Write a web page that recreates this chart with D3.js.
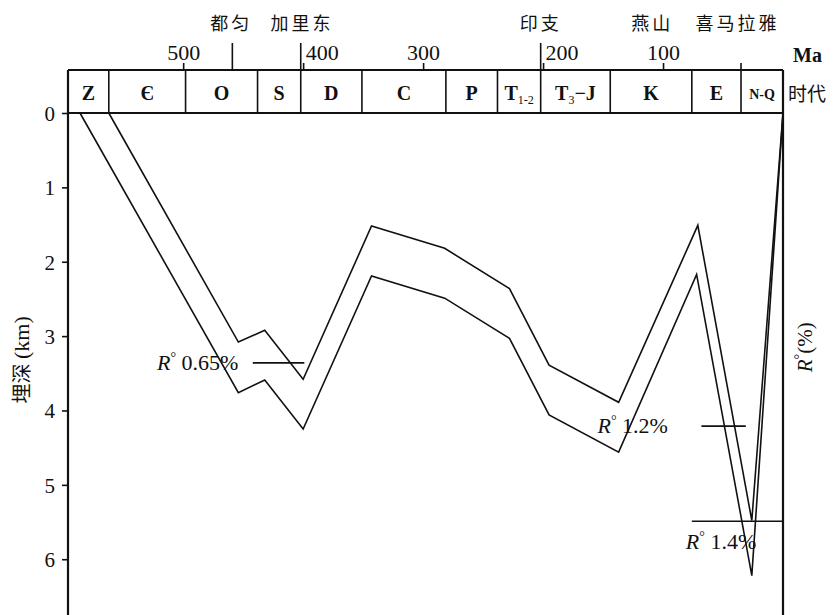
<!DOCTYPE html>
<html>
<head>
<meta charset="utf-8">
<script src="https://cdn.jsdelivr.net/npm/d3@7"></script>
<style>
  body { margin: 0; background: #fff; }
  text { fill: #111; }
</style>
</head>
<body>
<svg id="chart" width="834" height="615"></svg>
<script>
// Geological periods and their boundaries (Ma)
const periodNames  = ["Z", "Є", "O", "S", "D", "C", "P", "T1-2", "T3-J", "K", "E", "N-Q"];
const periodBounds = [596, 562, 498, 438, 402, 351, 281, 238, 202, 144, 76, 35, 0];

// Age ticks (Ma) and depth ticks (km)
const ageTicks   = [500, 400, 300, 200, 100];
const depthTicks = [0, 1, 2, 3, 4, 5, 6];

// Tectonic movements
const orogenyNames = ["都匀", "加里东", "印支", "燕山", "喜马拉雅"];
const orogenyAges  = [460, 401, 202, 109, 38];
const orogenyLineAges  = [459, 402, 202];
const orogenyShortAges = [35];

// Burial curve: top of the unit
const topAges   = [562, 454, 432, 400, 343, 282, 228, 195, 137, 71, 26, 0];
const topDepths = [0, 3.08, 2.92, 3.58, 1.52, 1.82, 2.36, 3.39, 3.89, 1.51, 5.48, 0];

// Burial curve: base of the unit
const baseAges   = [586, 454, 432, 400, 343, 282, 228, 195, 137, 72, 26, 0];
const baseDepths = [0, 3.76, 3.59, 4.25, 2.19, 2.49, 3.03, 4.06, 4.56, 2.17, 6.22, 0];

// Vitrinite reflectance levels
const roValues   = ["0.65", "1.2", "1.4"];
const roDepths   = [3.36, 4.21, 5.49];
const roFromAges = [442, 68, 76];
const roToAges   = [399, 31, 0];

const svg = d3.select("#chart");
const serif = "'Liberation Serif', 'DejaVu Serif', serif";
const cjk = "'Noto Sans CJK SC', sans-serif";

const x = d3.scaleLinear().domain([596, 0]).range([68, 783]);
const y = d3.scaleLinear().domain([0, 6.75]).range([113, 615]);
const boxTop = y(0) - 43;
const [x0, x1] = x.range();

// Time-scale box
const box = svg.append("g").attr("stroke", "#111").attr("fill", "none");
box.append("line").attr("x1", x0).attr("x2", x1).attr("y1", boxTop).attr("y2", boxTop).attr("stroke-width", 2);
box.append("line").attr("x1", x0).attr("x2", x1).attr("y1", y(0)).attr("y2", y(0)).attr("stroke-width", 2);
box.selectAll("line.div").data(periodBounds.slice(1, -1)).join("line")
  .attr("class", "div")
  .attr("x1", d => x(d)).attr("x2", d => x(d))
  .attr("y1", boxTop).attr("y2", y(0)).attr("stroke-width", 1.6);

// Period labels
const mid = y(0) - 13;
periodNames.forEach((name, i) => {
  const cx = (x(periodBounds[i]) + x(periodBounds[i + 1])) / 2;
  const t = svg.append("text").attr("x", cx).attr("y", mid)
    .attr("text-anchor", "middle").attr("font-family", serif)
    .attr("font-weight", "bold").attr("font-size", 20);
  if (name === "T1-2") {
    t.append("tspan").text("T");
    t.append("tspan").attr("font-size", 12).attr("font-weight", "normal").attr("dy", 4).text("1-2");
  } else if (name === "T3-J") {
    t.append("tspan").text("T");
    t.append("tspan").attr("font-size", 12).attr("font-weight", "normal").attr("dy", 4).text("3");
    t.append("tspan").attr("dy", -4).text("−J");
  } else if (name === "N-Q") {
    t.attr("font-size", 14).attr("dy", -1).text("N-Q");
  } else {
    t.text(name);
  }
});

// Left and right axis lines
svg.append("line").attr("x1", x0).attr("x2", x0).attr("y1", boxTop).attr("y2", y.range()[1])
  .attr("stroke", "#111").attr("stroke-width", 2.2);
svg.append("line").attr("x1", x1).attr("x2", x1).attr("y1", boxTop).attr("y2", y.range()[1])
  .attr("stroke", "#111").attr("stroke-width", 2.2);

// Depth axis
const yAxis = svg.append("g").attr("transform", `translate(${x0},0)`)
  .call(d3.axisLeft(y).tickValues(depthTicks).tickSize(6).tickPadding(7).tickFormat(d3.format("d")));
yAxis.select(".domain").remove();
yAxis.selectAll(".tick line").attr("stroke", "#111").attr("stroke-width", 1.6);
yAxis.selectAll(".tick text").attr("font-family", serif).attr("font-size", 21).attr("fill", "#111").attr("dy", "0.35em");

// Age axis on top of the box
const xAxis = svg.append("g").attr("transform", `translate(0,${boxTop})`)
  .call(d3.axisTop(x).tickValues(ageTicks).tickSize(7).tickPadding(3).tickFormat(d3.format("d")));
xAxis.select(".domain").remove();
xAxis.selectAll(".tick line").attr("stroke", "#111").attr("stroke-width", 1.6);
xAxis.selectAll(".tick text").attr("font-family", serif).attr("font-size", 22).attr("fill", "#111")
  .each(function (d) {
    const near = orogenyLineAges.some(a => Math.abs(x(a) - x(d)) < 10);
    if (near) d3.select(this).attr("text-anchor", "start").attr("x", 2);
  });

svg.append("text").attr("x", x1 + 10).attr("y", boxTop - 8)
  .attr("font-family", serif).attr("font-weight", "bold").attr("font-size", 20).text("Ma");
svg.append("text").attr("x", x1 + 5).attr("y", mid + 1)
  .attr("font-family", cjk).attr("font-size", 19).text("时代");

// Tectonic movement markers
svg.selectAll("line.orog").data(orogenyLineAges).join("line")
  .attr("class", "orog")
  .attr("x1", d => x(d)).attr("x2", d => x(d))
  .attr("y1", boxTop - 27).attr("y2", boxTop)
  .attr("stroke", "#111").attr("stroke-width", 1.6);
svg.selectAll("line.orogs").data(orogenyShortAges).join("line")
  .attr("class", "orogs")
  .attr("x1", d => x(d)).attr("x2", d => x(d))
  .attr("y1", boxTop - 7).attr("y2", boxTop)
  .attr("stroke", "#111").attr("stroke-width", 1.6);
svg.selectAll("text.orog").data(orogenyNames).join("text")
  .attr("class", "orog")
  .attr("x", (d, i) => x(orogenyAges[i]))
  .attr("y", boxTop - 40)
  .attr("text-anchor", "middle")
  .attr("font-family", cjk).attr("font-size", 18)
  .attr("letter-spacing", 3)
  .text(d => d);

// Burial curves
const line = d3.line().x(d => x(d[0])).y(d => y(d[1]));
const curves = [
  d3.zip(topAges, topDepths),
  d3.zip(baseAges, baseDepths)
];
svg.selectAll("path.curve").data(curves).join("path")
  .attr("class", "curve")
  .attr("d", line)
  .attr("fill", "none").attr("stroke", "#111").attr("stroke-width", 1.6)
  .attr("stroke-linejoin", "miter");

// Vitrinite reflectance levels
svg.selectAll("line.ro").data(roValues).join("line")
  .attr("class", "ro")
  .attr("x1", (d, i) => x(roFromAges[i])).attr("x2", (d, i) => x(roToAges[i]))
  .attr("y1", (d, i) => y(roDepths[i])).attr("y2", (d, i) => y(roDepths[i]))
  .attr("stroke", "#111").attr("stroke-width", 1.6);

// Label placement for each reflectance level
const roLabelAges = [454, 96, 81];
const roLabelAnchor = ["end", "end", "start"];
const roLabelDy = [7, 7, 28];
roValues.forEach((v, i) => {
  const t = svg.append("text")
    .attr("x", x(roLabelAges[i])).attr("y", y(roDepths[i]) + roLabelDy[i])
    .attr("text-anchor", roLabelAnchor[i])
    .attr("font-family", serif).attr("font-size", 22);
  t.append("tspan").attr("font-style", "italic").text("R");
  t.append("tspan").attr("font-size", 14).attr("dy", -8).text("°");
  t.append("tspan").attr("dy", 8).text(" " + v + "%");
});

// Axis titles
svg.append("text")
  .attr("transform", `translate(29,${y(3.32)}) rotate(-90)`)
  .attr("text-anchor", "middle").attr("font-size", 20)
  .call(t => {
    t.append("tspan").attr("font-family", cjk).text("埋深 ");
    t.append("tspan").attr("font-family", serif).attr("font-size", 22).text("(km)");
  });

svg.append("text")
  .attr("transform", `translate(812,${y(3.15)}) rotate(-90)`)
  .attr("text-anchor", "middle").attr("font-family", serif).attr("font-size", 21)
  .call(t => {
    t.append("tspan").attr("font-style", "italic").text("R");
    t.append("tspan").attr("font-size", 14).attr("dy", -8).text("°");
    t.append("tspan").attr("dy", 8).text("(%)");
  });
</script>
</body>
</html>
